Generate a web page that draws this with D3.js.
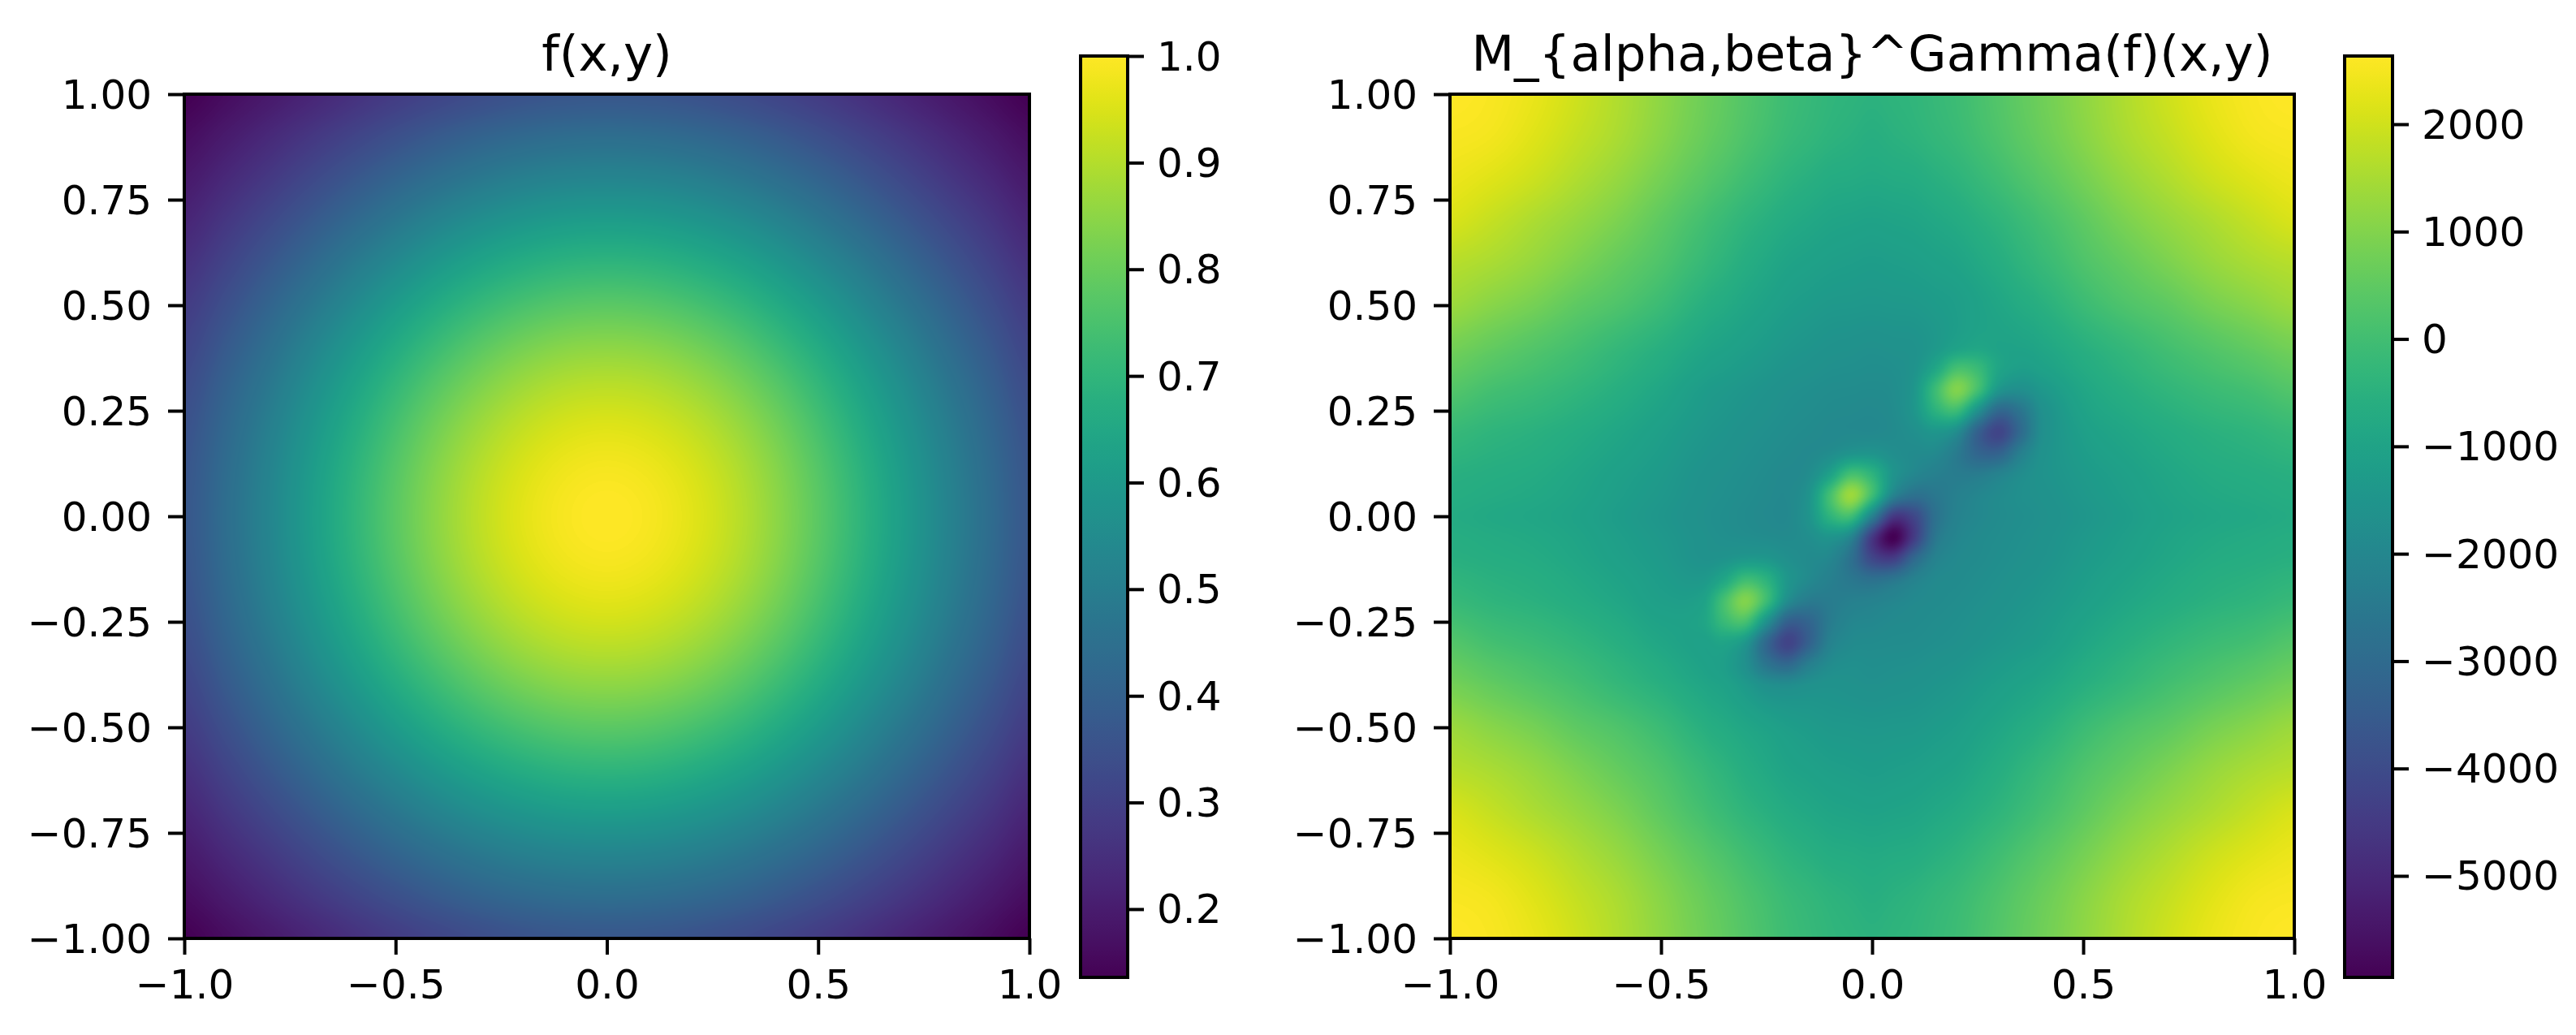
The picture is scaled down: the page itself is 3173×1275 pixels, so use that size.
<!DOCTYPE html>
<html>
<head>
<meta charset="utf-8">
<script src="https://cdn.jsdelivr.net/npm/d3@7"></script>
<style>
  body { margin: 0; background: #fff; }
  svg { display: block; filter: blur(0.7px); }
  text { font-family: "DejaVu Sans", sans-serif; fill: #000; }
  .tick text { font-size: 50px; }
  .tick line { stroke: #000; stroke-width: 4px; }
  .title { font-size: 61px; text-anchor: middle; }
</style>
</head>
<body>
<svg id="chart" width="3173" height="1275"></svg>
<script>
const xTicks = [-1, -0.5, 0, 0.5, 1]
const yTicks = [-1, -0.75, -0.5, -0.25, 0, 0.25, 0.5, 0.75, 1]
const leftBarTicks = [0.2, 0.3, 0.4, 0.5, 0.6, 0.7, 0.8, 0.9, 1]
const rightBarTicks = [-5000, -4000, -3000, -2000, -1000, 0, 1000, 2000]
const leftRange = [0.136, 1]
const rightRange = [-5945, 2635]
const leftTitle = 'f(x,y)'
const rightTitle = 'M_{alpha,beta}^Gamma(f)(x,y)'

// left panel samples, rows run from y = 1 down to y = -1
const leftXs = [-1, -0.9, -0.8, -0.7, -0.6, -0.5, -0.4, -0.3, -0.2, -0.1, 0, 0.1, 0.2, 0.3, 0.4, 0.5, 0.6, 0.7, 0.8, 0.9, 1]
const leftYs = leftXs.slice().reverse()
const leftValues = [
  [.135,.164,.194,.225,.257,.287,.313,.336,.354,.364,.368,.364,.354,.336,.313,.287,.257,.225,.194,.164,.135],
  [.164,.198,.235,.273,.310,.346,.379,.407,.427,.440,.445,.440,.427,.407,.379,.346,.310,.273,.235,.198,.164],
  [.194,.235,.278,.323,.368,.411,.449,.482,.507,.522,.527,.522,.507,.482,.449,.411,.368,.323,.278,.235,.194],
  [.225,.273,.323,.375,.427,.477,.523,.561,.589,.607,.613,.607,.589,.561,.523,.477,.427,.375,.323,.273,.225],
  [.257,.310,.368,.427,.487,.543,.595,.638,.670,.691,.698,.691,.670,.638,.595,.543,.487,.427,.368,.310,.257],
  [.287,.346,.411,.477,.543,.607,.664,.712,.748,.771,.779,.771,.748,.712,.664,.607,.543,.477,.411,.346,.287],
  [.313,.379,.449,.523,.595,.664,.726,.779,.819,.844,.852,.844,.819,.779,.726,.664,.595,.523,.449,.379,.313],
  [.336,.407,.482,.561,.638,.712,.779,.835,.878,.905,.914,.905,.878,.835,.779,.712,.638,.561,.482,.407,.336],
  [.354,.427,.507,.589,.670,.748,.819,.878,.923,.951,.961,.951,.923,.878,.819,.748,.670,.589,.507,.427,.354],
  [.364,.440,.522,.607,.691,.771,.844,.905,.951,.980,.990,.980,.951,.905,.844,.771,.691,.607,.522,.440,.364],
  [.368,.445,.527,.613,.698,.779,.852,.914,.961,.990,1.00,.990,.961,.914,.852,.779,.698,.613,.527,.445,.368],
  [.364,.440,.522,.607,.691,.771,.844,.905,.951,.980,.990,.980,.951,.905,.844,.771,.691,.607,.522,.440,.364],
  [.354,.427,.507,.589,.670,.748,.819,.878,.923,.951,.961,.951,.923,.878,.819,.748,.670,.589,.507,.427,.354],
  [.336,.407,.482,.561,.638,.712,.779,.835,.878,.905,.914,.905,.878,.835,.779,.712,.638,.561,.482,.407,.336],
  [.313,.379,.449,.523,.595,.664,.726,.779,.819,.844,.852,.844,.819,.779,.726,.664,.595,.523,.449,.379,.313],
  [.287,.346,.411,.477,.543,.607,.664,.712,.748,.771,.779,.771,.748,.712,.664,.607,.543,.477,.411,.346,.287],
  [.257,.310,.368,.427,.487,.543,.595,.638,.670,.691,.698,.691,.670,.638,.595,.543,.487,.427,.368,.310,.257],
  [.225,.273,.323,.375,.427,.477,.523,.561,.589,.607,.613,.607,.589,.561,.523,.477,.427,.375,.323,.273,.225],
  [.194,.235,.278,.323,.368,.411,.449,.482,.507,.522,.527,.522,.507,.482,.449,.411,.368,.323,.278,.235,.194],
  [.164,.198,.235,.273,.310,.346,.379,.407,.427,.440,.445,.440,.427,.407,.379,.346,.310,.273,.235,.198,.164],
  [.135,.164,.194,.225,.257,.287,.313,.336,.354,.364,.368,.364,.354,.336,.313,.287,.257,.225,.194,.164,.135],
]

// right panel samples, finer in the middle where the blobs sit
const rightXs = [-1, -0.9, -0.8, -0.7, -0.6, -0.5, -0.4, -0.35, -0.3, -0.25, -0.2, -0.15, -0.1, -0.05, 0, 0.05, 0.1, 0.15, 0.2, 0.25, 0.3, 0.35, 0.4, 0.5, 0.6, 0.7, 0.8, 0.9, 1]
const rightYs = rightXs.slice().reverse()
const rightValues = [
  [2635,2550,2335,1990,1605,1175,745,535,320,125,-70,-195,-325,-390,-455,-390,-325,-195,-70,125,320,535,745,1175,1605,1990,2335,2550,2635],
  [2550,2465,2205,1860,1520,1090,660,450,230,40,-155,-280,-410,-495,-580,-495,-410,-280,-155,40,230,450,660,1090,1520,1860,2205,2465,2550],
  [2380,2205,1950,1605,1260,830,405,190,-25,-220,-410,-540,-670,-710,-755,-710,-670,-540,-410,-220,-25,190,405,830,1260,1605,1950,2205,2380],
  [2120,1860,1560,1260,920,490,60,-155,-370,-540,-710,-820,-925,-970,-1010,-970,-925,-820,-710,-540,-370,-155,60,490,920,1260,1560,1860,2120],
  [1690,1520,1260,920,575,230,-195,-410,-625,-800,-970,-1055,-1140,-1185,-1225,-1185,-1140,-1055,-970,-800,-625,-410,-195,230,575,920,1260,1520,1690],
  [1350,1090,830,490,230,-110,-540,-710,-880,-1030,-1180,-1270,-1355,-1375,-1400,-1375,-1355,-1270,-1180,-1030,-880,-710,-540,-110,230,490,830,1090,1350],
  [830,575,320,60,-240,-540,-880,-1010,-1140,-1270,-1400,-1485,-1570,-1610,-1655,-1610,-1570,-1355,-1055,-900,-995,-990,-880,-540,-240,60,320,575,830],
  [575,320,105,-130,-410,-710,-1050,-1170,-1290,-1410,-1530,-1600,-1680,-1710,-1740,-1710,-1550,-875,80,-140,-920,-1170,-1065,-710,-410,-130,105,320,575],
  [320,60,-110,-325,-580,-880,-1225,-1335,-1440,-1550,-1655,-1720,-1785,-1805,-1830,-1770,-1425,-100,1000,60,-1440,-1715,-1390,-880,-580,-325,-110,60,320],
  [60,-155,-300,-500,-730,-1010,-1310,-1420,-1530,-1625,-1720,-1785,-1850,-1880,-1905,-1815,-1440,-475,-100,-1625,-3080,-2655,-1690,-1010,-730,-500,-300,-155,60],
  [-195,-370,-495,-670,-880,-1140,-1400,-1505,-1615,-1700,-1785,-1850,-1910,-1910,-1925,-1850,-1695,-1440,-1785,-3300,-4190,-3055,-1745,-1140,-880,-670,-495,-370,-195],
  [-370,-500,-600,-775,-990,-1225,-1485,-1580,-1680,-1765,-1850,-1900,-1790,-1540,-1520,-1745,-1850,-1900,-2405,-3175,-3280,-2300,-1625,-1225,-990,-775,-600,-500,-370],
  [-540,-625,-710,-880,-1100,-1310,-1570,-1655,-1740,-1830,-1910,-1790,-1065,50,-405,-1520,-2000,-2245,-2375,-2385,-2145,-1805,-1570,-1310,-1100,-880,-710,-625,-540],
  [-625,-710,-795,-945,-1165,-1375,-1610,-1700,-1785,-1870,-1910,-1540,50,1350,-40,-2085,-2770,-2530,-2245,-2020,-1855,-1700,-1610,-1375,-1165,-945,-795,-710,-625],
  [-710,-800,-880,-1010,-1230,-1440,-1655,-1740,-1830,-1900,-1925,-1520,-400,-40,-2170,-4510,-4105,-2770,-2170,-1960,-1830,-1740,-1655,-1440,-1230,-1010,-880,-800,-710],
  [-625,-710,-795,-945,-1165,-1375,-1610,-1700,-1750,-1805,-1850,-1745,-1520,-2085,-4510,-5940,-4420,-2575,-2040,-1870,-1785,-1700,-1610,-1375,-1165,-945,-795,-710,-625],
  [-540,-625,-710,-880,-1100,-1310,-1570,-1525,-1380,-1420,-1695,-1850,-2000,-2770,-4110,-4420,-3070,-2165,-1910,-1830,-1740,-1655,-1570,-1310,-1100,-880,-710,-625,-540],
  [-370,-500,-600,-775,-990,-1225,-1355,-855,-60,-455,-1440,-1900,-2245,-2530,-2770,-2575,-2165,-1900,-1850,-1765,-1680,-1580,-1485,-1225,-990,-775,-600,-500,-370],
  [-195,-370,-495,-670,-880,-1140,-1055,100,1000,-80,-1785,-2405,-2375,-2245,-2170,-2040,-1910,-1850,-1785,-1700,-1615,-1505,-1400,-1140,-880,-670,-495,-370,-195],
  [60,-155,-300,-500,-730,-1010,-940,-155,80,-1625,-3320,-3195,-2405,-2030,-1965,-1880,-1850,-1785,-1720,-1625,-1530,-1420,-1310,-1010,-730,-500,-300,-155,60],
  [320,60,-110,-325,-580,-880,-1080,-965,-1440,-3100,-4230,-3320,-2190,-1875,-1830,-1805,-1785,-1720,-1655,-1550,-1440,-1335,-1225,-880,-580,-325,-110,60,320],
  [575,320,105,-130,-410,-710,-1030,-1170,-1670,-2645,-3080,-2320,-1830,-1710,-1740,-1710,-1680,-1600,-1530,-1410,-1290,-1170,-1050,-710,-410,-130,105,320,575],
  [830,575,320,60,-240,-540,-880,-1025,-1305,-1650,-1745,-1625,-1570,-1610,-1655,-1610,-1570,-1485,-1400,-1270,-1140,-1010,-880,-540,-240,60,320,575,830],
  [1350,1090,830,490,230,-110,-540,-710,-880,-1030,-1180,-1270,-1355,-1375,-1400,-1375,-1355,-1270,-1180,-1030,-880,-710,-540,-110,230,490,830,1090,1350],
  [1690,1520,1260,920,575,230,-195,-410,-625,-800,-970,-1055,-1140,-1185,-1225,-1185,-1140,-1055,-970,-800,-625,-410,-195,230,575,920,1260,1520,1690],
  [2120,1860,1560,1260,920,490,60,-155,-370,-540,-710,-820,-925,-970,-1010,-970,-925,-820,-710,-540,-370,-155,60,490,920,1260,1560,1860,2120],
  [2380,2205,1950,1605,1260,830,405,190,-25,-220,-410,-540,-670,-710,-755,-710,-670,-540,-410,-220,-25,190,405,830,1260,1605,1950,2205,2380],
  [2550,2465,2205,1860,1520,1090,660,450,230,40,-155,-280,-410,-495,-580,-495,-410,-280,-155,40,230,450,660,1090,1520,1860,2205,2465,2550],
  [2635,2550,2335,1990,1605,1175,745,535,320,125,-70,-195,-325,-390,-455,-390,-325,-195,-70,125,320,535,745,1175,1605,1990,2335,2550,2635],
]

const svg = d3.select('#chart')
const defs = svg.append('defs')

const plotTop = 116
const plotBottom = 1156
const barTop = 69
const barBottom = 1204

function cubic(a, b, c, d, t) {
  return b + 0.5 * t * (c - a + t * (2 * a - 5 * b + 4 * c - d + t * (3 * (b - c) + d - a)))
}

// paints the sampled grid the way imshow does with a smooth interpolation
function heatmapUrl(xs, ys, values, x, y, colour) {
  const width = Math.round(x.range()[1] - x.range()[0])
  const height = Math.round(y.range()[0] - y.range()[1])
  const canvas = document.createElement('canvas')
  canvas.width = width
  canvas.height = height
  const ctx = canvas.getContext('2d')
  const img = ctx.createImageData(width, height)

  const colX = d3.scaleLinear().domain(xs).range(d3.range(xs.length))
  const rowY = d3.scaleLinear().domain(ys).range(d3.range(ys.length))
  const clampTo = (i, n) => Math.max(0, Math.min(n - 1, i))

  const lut = d3.range(1025).map((i) => d3.rgb(d3.interpolateViridis(i / 1024)))

  for (let py = 0; py < height; py++) {
    const fy = rowY(y.invert(y.range()[1] + py + 0.5))
    const r = Math.floor(fy)
    const tr = fy - r
    const rows = [r - 1, r, r + 1, r + 2].map((i) => values[clampTo(i, ys.length)])
    for (let px = 0; px < width; px++) {
      const fx = colX(x.invert(x.range()[0] + px + 0.5))
      const c = Math.floor(fx)
      const tc = fx - c
      const cols = [c - 1, c, c + 1, c + 2].map((i) => clampTo(i, xs.length))
      const v = cubic(
        ...rows.map((row) => cubic(row[cols[0]], row[cols[1]], row[cols[2]], row[cols[3]], tc)),
        tr,
      )
      const col = lut[Math.round(colour(v) * 1024)]
      const k = (py * width + px) * 4
      img.data[k] = col.r
      img.data[k + 1] = col.g
      img.data[k + 2] = col.b
      img.data[k + 3] = 255
    }
  }
  ctx.putImageData(img, 0, 0)
  return canvas.toDataURL()
}

function drawPanel(id, panel) {
  const x = d3.scaleLinear().domain([-1, 1]).range([panel.left, panel.right])
  const y = d3.scaleLinear().domain([-1, 1]).range([plotBottom, plotTop])
  const colour = d3.scaleLinear().domain(panel.range).range([0, 1]).clamp(true)
  const g = svg.append('g')

  g.append('image')
    .attr('x', panel.left)
    .attr('y', plotTop)
    .attr('width', panel.right - panel.left)
    .attr('height', plotBottom - plotTop)
    .attr('href', heatmapUrl(panel.xs, panel.ys, panel.values, x, y, colour))

  g.append('rect')
    .attr('x', panel.left)
    .attr('y', plotTop)
    .attr('width', panel.right - panel.left)
    .attr('height', plotBottom - plotTop)
    .attr('fill', 'none')
    .attr('stroke', '#000')
    .attr('stroke-width', 4)

  const xAxis = g
    .append('g')
    .attr('transform', `translate(0, ${plotBottom})`)
    .call(
      d3
        .axisBottom(x)
        .tickValues(xTicks)
        .tickFormat(d3.format('.1f'))
        .tickSize(20)
        .tickPadding(18),
    )
  xAxis.select('.domain').remove()

  const yAxis = g
    .append('g')
    .attr('transform', `translate(${panel.left}, 0)`)
    .call(
      d3
        .axisLeft(y)
        .tickValues(yTicks)
        .tickFormat(d3.format('.2f'))
        .tickSize(20)
        .tickPadding(20),
    )
  yAxis.select('.domain').remove()
  yAxis.selectAll('text').attr('dy', '.34em')

  g.append('text')
    .attr('class', 'title')
    .attr('x', (panel.left + panel.right) / 2)
    .attr('y', 87)
    .text(panel.title)

  // colour bar
  const gradient = defs
    .append('linearGradient')
    .attr('id', `bar-${id}`)
    .attr('x1', 0)
    .attr('x2', 0)
    .attr('y1', 1)
    .attr('y2', 0)
  d3.range(65).forEach((i) => {
    gradient
      .append('stop')
      .attr('offset', i / 64)
      .attr('stop-color', d3.interpolateViridis(i / 64))
  })

  const barScale = d3.scaleLinear().domain(panel.range).range([barBottom, barTop])

  g.append('rect')
    .attr('x', panel.barLeft)
    .attr('y', barTop)
    .attr('width', panel.barRight - panel.barLeft)
    .attr('height', barBottom - barTop)
    .attr('fill', `url(#bar-${id})`)
    .attr('stroke', '#000')
    .attr('stroke-width', 4)

  const barAxis = g
    .append('g')
    .attr('transform', `translate(${panel.barRight}, 0)`)
    .call(
      d3
        .axisRight(barScale)
        .tickValues(panel.barTicks)
        .tickFormat(panel.barFormat)
        .tickSize(20)
        .tickPadding(16),
    )
  barAxis.select('.domain').remove()
  barAxis.selectAll('text').attr('dy', '.34em')
}

drawPanel('left', {
  xs: leftXs,
  ys: leftYs,
  values: leftValues,
  range: leftRange,
  title: leftTitle,
  left: 227,
  right: 1268,
  barLeft: 1331,
  barRight: 1389,
  barTicks: leftBarTicks,
  barFormat: d3.format('.1f'),
})

drawPanel('right', {
  xs: rightXs,
  ys: rightYs,
  values: rightValues,
  range: rightRange,
  title: rightTitle,
  left: 1786,
  right: 2826,
  barLeft: 2888,
  barRight: 2947,
  barTicks: rightBarTicks,
  barFormat: d3.format('d'),
})
</script>
</body>
</html>
